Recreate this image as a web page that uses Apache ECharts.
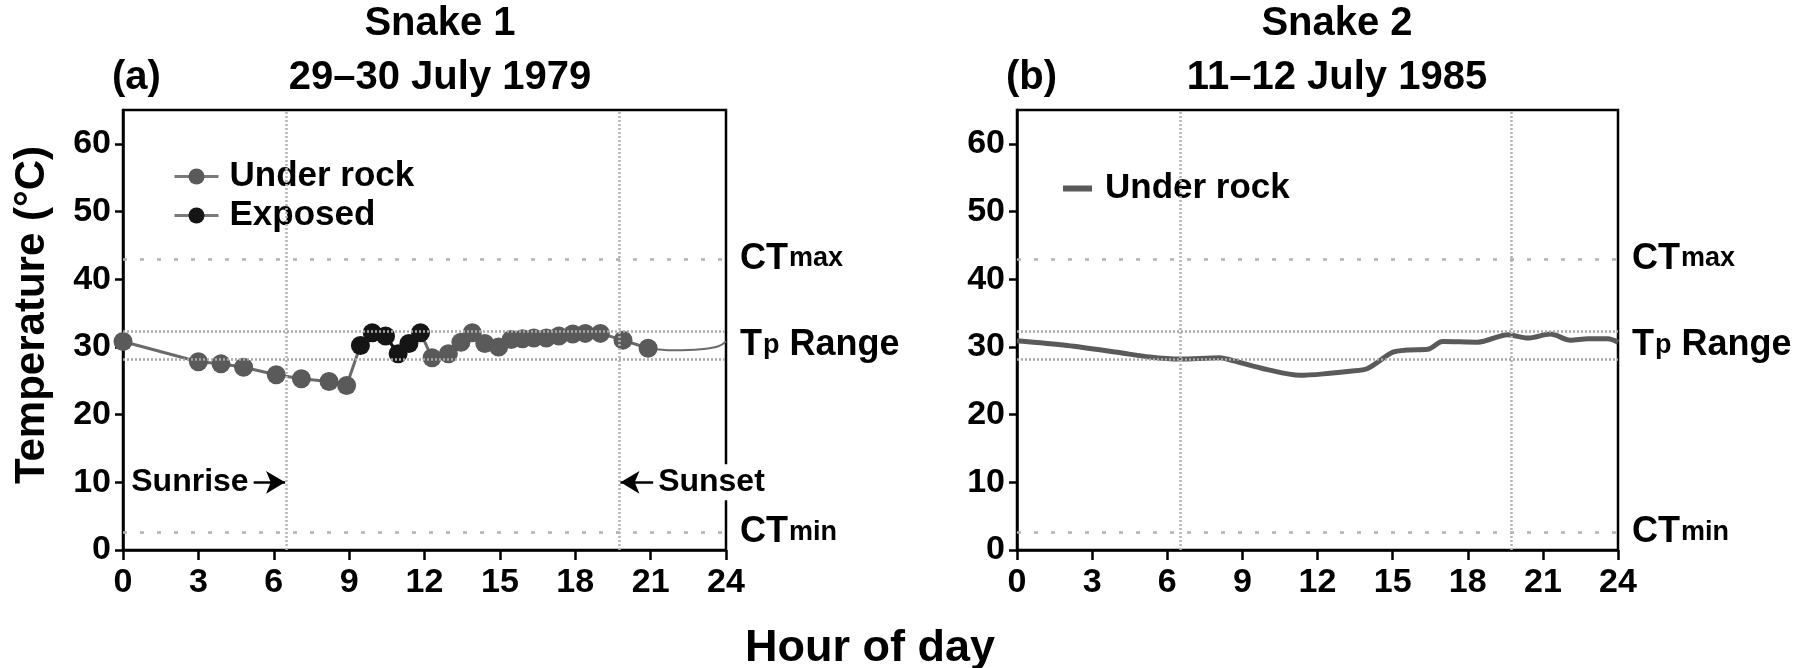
<!DOCTYPE html>
<html><head><meta charset="utf-8">
<script src="https://cdn.jsdelivr.net/npm/echarts@6/dist/echarts.min.js"></script>
<style>html,body{margin:0;padding:0;background:#fff}#c{width:1808px;height:668px}</style>
</head><body><div id="c"></div><script>
// ---------- data ----------
const xTicks = [0, 3, 6, 9, 12, 15, 18, 21, 24];
const yTicks = [0, 10, 20, 30, 40, 50, 60];
// Snake 1 (a)
const underRockHours = [0, 3.0, 3.9, 4.8, 6.1, 7.1, 8.2, 8.9, 12.3, 12.95, 13.45, 13.9, 14.4, 14.95, 15.45, 15.9, 16.35, 16.85, 17.35, 17.9, 18.4, 19.0, 19.9, 20.9];
const underRockTemps = [30.8, 27.8, 27.5, 27.0, 25.9, 25.3, 24.9, 24.3, 28.4, 29.0, 30.7, 32.1, 30.5, 30.0, 31.1, 31.2, 31.3, 31.3, 31.6, 31.9, 32.0, 32.0, 31.0, 29.8];
const exposedHours = [9.45, 9.92, 10.45, 10.95, 11.38, 11.84];
const exposedTemps = [30.2, 32.1, 31.6, 29.0, 30.5, 32.1];
const tailHours = [20.9, 21.9, 23.0, 23.7, 24.0];
const tailTemps = [29.8, 29.5, 29.65, 30.1, 30.8];
// Snake 2 (b)
const rockHours2 = [0, 2, 4, 5.3, 6.5, 8.1, 8.5, 10, 11.3, 12.5, 13.3, 14, 15, 15.6, 16.4, 17, 18.4, 19.6, 20.4, 21.3, 22.1, 22.8, 23.6, 24];
const rockTemps2 = [30.9, 30.2, 29.2, 28.5, 28.2, 28.4, 28.1, 26.65, 25.8, 26.1, 26.4, 26.8, 29.2, 29.55, 29.65, 30.8, 30.7, 31.8, 31.3, 31.9, 31.0, 31.2, 31.2, 30.7];
// reference levels
const ctMax = 43;
const ctMin = 2.6;
const tpRange = [28.2, 32.3];
const sunrise = 6.5;
const sunset = 19.75;
const annotY = 10;
const sunriseArrow = [5.2, 6.45];
const sunsetArrow = [21.1, 19.8];

// ---------- helpers ----------
const FONT = 'Liberation Sans, Arial, Helvetica, sans-serif';
const pair = (xs, ys) => xs.map((x, i) => [x, ys[i]]);
const trajectory = pair(underRockHours, underRockTemps).concat(pair(exposedHours, exposedTemps)).sort((a, b) => a[0] - b[0]);
const GRIDS = [{left: 123, top: 110, width: 603, height: 440}, {left: 1017, top: 110, width: 601, height: 440}];
const tf = {fontFamily: FONT, fontWeight: 'bold', color: '#000'};
const rich = {
  big: Object.assign({fontSize: 36}, tf),
  small: Object.assign({fontSize: 27, padding: [0, 0, 0, 1]}, tf)
};

function refLines(withSun) {
  const dotted = {color: '#a8a8a8', width: 2.5, type: [2, 2]};
  const sparse = {color: '#b0b0b0', width: 2.5, type: [4, 13]};
  const lab = (fmt) => ({show: true, position: 'end', distance: 14, formatter: fmt, color: '#000', rich: rich});
  const d = [
    {yAxis: ctMax, lineStyle: sparse, label: lab('{big|CT}{small|max}')},
    {yAxis: ctMin, lineStyle: sparse, label: lab('{big|CT}{small|min}')},
    {yAxis: tpRange[0], lineStyle: dotted, label: {show: false}},
    {yAxis: tpRange[1], lineStyle: dotted, label: {show: false}},
    {yAxis: (tpRange[0] + tpRange[1]) / 2, lineStyle: {color: 'rgba(255,255,255,0)', width: 0}, label: lab('{big|T}{small|p}{big| Range}')},
    {xAxis: sunrise, lineStyle: {color: '#b4b4b4', width: 2.5, type: [2, 2]}, label: {show: false}},
    {xAxis: sunset, lineStyle: {color: '#b4b4b4', width: 2.5, type: [2, 2]}, label: {show: false}}
  ];
  if (withSun) {
    const arrowLabel = (t) => ({show: true, position: 'start', distance: 4, formatter: t,
      fontSize: 32, fontFamily: FONT, fontWeight: 'bold', color: '#000', backgroundColor: '#fff', padding: [2, 1, 2, 1]});
    d.push([
      {coord: [sunriseArrow[0], annotY], symbol: 'none', lineStyle: {color: '#000', width: 2.5, type: 'solid'}, label: arrowLabel('Sunrise')},
      {coord: [sunriseArrow[1], annotY], symbol: 'arrow', symbolSize: [17, 19]}
    ]);
    d.push([
      {coord: [sunsetArrow[0], annotY], symbol: 'none', lineStyle: {color: '#000', width: 2.5, type: 'solid'}, label: arrowLabel('Sunset')},
      {coord: [sunsetArrow[1], annotY], symbol: 'arrow', symbolSize: [17, 19]}
    ]);
  }
  return {silent: true, symbol: ['none', 'none'], animation: false, data: d};
}

function xAxisCfg(i) {
  return {type: 'value', gridIndex: i, min: xTicks[0], max: xTicks[xTicks.length - 1], interval: 3,
    axisLine: {lineStyle: {color: '#000', width: 2.5}},
    axisTick: {length: 10, lineStyle: {color: '#000', width: 2.5}},
    axisLabel: {fontSize: 34, margin: 16, fontFamily: FONT, fontWeight: 'bold', color: '#000'},
    splitLine: {show: false}};
}
function yAxisCfg(i) {
  const c = {type: 'value', gridIndex: i, min: yTicks[0], max: 65, interval: 10,
    axisLine: {show: true, lineStyle: {color: '#000', width: 2.5}},
    axisTick: {show: true, length: 8, lineStyle: {color: '#000', width: 2.5}},
    axisLabel: {fontSize: 34, margin: 12, fontFamily: FONT, fontWeight: 'bold', color: '#000', showMaxLabel: false},
    splitLine: {show: false}};
  if (i === 0) {
    c.name = 'Temperature (°C)';
    c.nameLocation = 'middle';
    c.nameGap = 70;
    c.nameTextStyle = {fontSize: 42, fontFamily: FONT, fontWeight: 'bold', color: '#000', padding: [0, 0, 0, 30]};
  }
  return c;
}

const option = {
  animation: false,
  backgroundColor: '#fff',
  grid: GRIDS.map(g => Object.assign({show: true, borderColor: '#000', borderWidth: 2.5, backgroundColor: 'transparent'}, g)),
  xAxis: [xAxisCfg(0), xAxisCfg(1)],
  yAxis: [yAxisCfg(0), yAxisCfg(1)],
  legend: [
    {data: ['Under rock', 'Exposed'], orient: 'vertical', left: 168, top: 154, itemGap: 4,
      itemWidth: 44, itemHeight: 20, selectedMode: false,
      lineStyle: {color: '#7a7a7a', width: 3},
      textStyle: {fontSize: 35, fontFamily: FONT, fontWeight: 'bold', color: '#000', padding: [0, 0, 0, 6]}},
    {data: [{name: 'Under rock', icon: 'rect'}], left: 1058, top: 166, itemWidth: 29, itemHeight: 6,
      selectedMode: false, itemStyle: {color: '#5a5a5a'},
      textStyle: {fontSize: 35, fontFamily: FONT, fontWeight: 'bold', color: '#000', padding: [0, 0, 0, 8]}}
  ],
  series: [
    {name: 'traj1', type: 'line', xAxisIndex: 0, yAxisIndex: 0, data: trajectory, symbol: 'none',
      lineStyle: {color: '#6a6a6a', width: 3}, z: 2, markLine: refLines(true)},
    {name: 'tail1', type: 'line', xAxisIndex: 0, yAxisIndex: 0, data: pair(tailHours, tailTemps), symbol: 'none',
      smooth: 0.4, lineStyle: {color: '#6a6a6a', width: 2}, z: 2},
    {name: 'Under rock', type: 'line', xAxisIndex: 0, yAxisIndex: 0, data: pair(underRockHours, underRockTemps),
      symbol: 'circle', symbolSize: 19, showAllSymbol: true, lineStyle: {width: 0, color: '#5a5a5a'},
      itemStyle: {color: '#5a5a5a'}, z: 3},
    {name: 'Exposed', type: 'line', xAxisIndex: 0, yAxisIndex: 0, data: pair(exposedHours, exposedTemps),
      symbol: 'circle', symbolSize: 19, showAllSymbol: true, lineStyle: {width: 3, color: '#151515'},
      itemStyle: {color: '#151515'}, z: 4},
    {name: 'Under rock', type: 'line', xAxisIndex: 1, yAxisIndex: 1, data: pair(rockHours2, rockTemps2),
      symbol: 'none', smooth: 0.3, lineStyle: {color: '#5a5a5a', width: 5}, itemStyle: {color: '#5a5a5a'},
      z: 3, markLine: refLines(false)}
  ],
  graphic: [
    {type: 'text', x: 440, y: 24, style: {text: 'Snake 1', fontSize: 40, fontFamily: FONT, fontWeight: 'bold', fill: '#000', align: 'center', verticalAlign: 'middle'}},
    {type: 'text', x: 440, y: 78, style: {text: '29–30 July 1979', fontSize: 40, fontFamily: FONT, fontWeight: 'bold', fill: '#000', align: 'center', verticalAlign: 'middle'}},
    {type: 'text', x: 112, y: 78, style: {text: '(a)', fontSize: 40, fontFamily: FONT, fontWeight: 'bold', fill: '#000', align: 'left', verticalAlign: 'middle'}},
    {type: 'text', x: 1337, y: 24, style: {text: 'Snake 2', fontSize: 40, fontFamily: FONT, fontWeight: 'bold', fill: '#000', align: 'center', verticalAlign: 'middle'}},
    {type: 'text', x: 1337, y: 78, style: {text: '11–12 July 1985', fontSize: 40, fontFamily: FONT, fontWeight: 'bold', fill: '#000', align: 'center', verticalAlign: 'middle'}},
    {type: 'text', x: 1006, y: 78, style: {text: '(b)', fontSize: 40, fontFamily: FONT, fontWeight: 'bold', fill: '#000', align: 'left', verticalAlign: 'middle'}},
    {type: 'text', x: 870, y: 649, style: {text: 'Hour of day', fontSize: 45, fontFamily: FONT, fontWeight: 'bold', fill: '#000', align: 'center', verticalAlign: 'middle'}}
  ]
};
const chart = echarts.init(document.getElementById('c'), null, {renderer: 'canvas'});
chart.setOption(option);
</script></body></html>
